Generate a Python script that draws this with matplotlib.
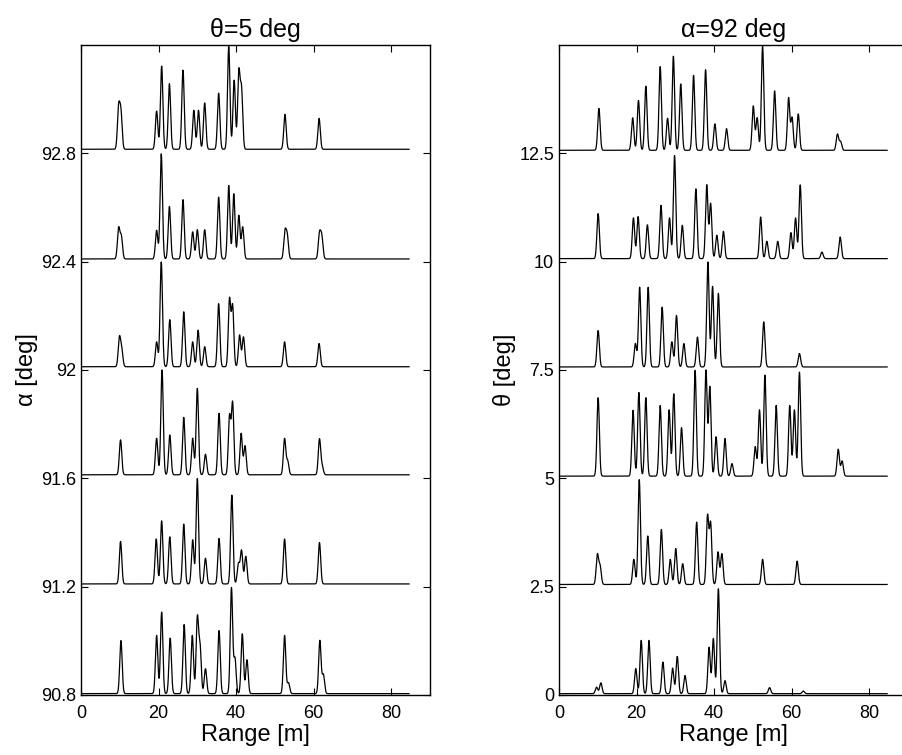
import numpy as np
import matplotlib.pyplot as plt

plt.rcParams['font.family'] = ['Liberation Sans', 'DejaVu Sans']

rng_m = np.linspace(0, 84.6, 4000)
peak_sigma = 0.31

# left panel: theta = 5 deg, one trace per alpha
alpha_ticks = [90.8, 91.2, 91.6, 92.0, 92.4, 92.8]
alpha_base = [90.805, 91.21, 91.613, 92.012, 92.41, 92.815]

a908_pos = [10.3, 19.5, 20.8, 23.0, 26.6, 28.7, 30.0, 30.7, 32.1, 35.6, 38.8, 39.7, 41.6, 42.8, 52.5, 53.5, 61.6, 62.5]
a908_amp = [0.196, 0.215, 0.301, 0.205, 0.255, 0.215, 0.276, 0.17, 0.092, 0.233, 0.39, 0.129, 0.221, 0.125, 0.215, 0.04, 0.196, 0.07]
a912_pos = [10.2, 19.4, 20.8, 22.9, 26.5, 28.8, 30.0, 32.1, 35.6, 38.9, 40.6, 41.4, 42.5, 52.5, 61.5]
a912_amp = [0.157, 0.166, 0.233, 0.174, 0.221, 0.163, 0.389, 0.095, 0.168, 0.328, 0.074, 0.123, 0.102, 0.166, 0.153]
a916_pos = [10.2, 19.5, 20.9, 22.9, 26.5, 28.8, 30.0, 32.1, 35.6, 38.3, 39.1, 41.3, 42.3, 52.5, 53.3, 61.5, 62.2]
a916_amp = [0.129, 0.135, 0.387, 0.147, 0.212, 0.135, 0.319, 0.076, 0.227, 0.215, 0.264, 0.153, 0.107, 0.133, 0.05, 0.131, 0.03]
a920_pos = [9.9, 10.5, 19.5, 20.7, 22.9, 26.5, 28.8, 30.2, 31.9, 35.5, 38.3, 39.1, 40.9, 41.9, 52.5, 61.4]
a920_amp = [0.104, 0.06, 0.092, 0.387, 0.174, 0.203, 0.092, 0.135, 0.074, 0.233, 0.248, 0.223, 0.117, 0.11, 0.092, 0.086]
a924_pos = [9.7, 10.4, 19.5, 20.7, 22.8, 26.3, 28.8, 30.0, 31.9, 35.5, 38.1, 39.4, 40.7, 41.7, 52.6, 53.2, 61.5, 62.1]
a924_amp = [0.112, 0.081, 0.106, 0.388, 0.194, 0.219, 0.10, 0.108, 0.108, 0.228, 0.271, 0.241, 0.161, 0.118, 0.097, 0.081, 0.09, 0.079]
a928_pos = [9.7, 10.3, 19.5, 20.8, 22.8, 26.3, 29.1, 30.3, 31.9, 35.5, 38.1, 39.5, 40.7, 41.4, 52.6, 61.4]
a928_amp = [0.15, 0.13, 0.141, 0.307, 0.242, 0.292, 0.144, 0.144, 0.171, 0.207, 0.38, 0.255, 0.281, 0.215, 0.129, 0.114]

# right panel: alpha = 92 deg, one trace per theta
theta_ticks = [0, 2.5, 5, 7.5, 10, 12.5]
theta_base = [0.03, 2.55, 5.05, 7.57, 10.07, 12.57]

t00_pos = [9.7, 10.8, 19.8, 21.2, 23.2, 26.8, 29.3, 30.5, 32.5, 38.7, 39.8, 41.1, 42.8, 54.3, 63.0]
t00_amp = [0.15, 0.25, 0.58, 1.23, 1.23, 0.73, 0.59, 0.86, 0.42, 1.07, 1.27, 2.42, 0.3, 0.14, 0.06]
t25_pos = [9.9, 10.6, 19.3, 20.7, 22.9, 26.4, 28.7, 30.1, 31.9, 35.5, 38.3, 39.1, 41.0, 42.0, 52.5, 61.4]
t25_amp = [0.68, 0.41, 0.58, 2.42, 1.12, 1.27, 0.58, 0.83, 0.48, 1.44, 1.57, 1.40, 0.75, 0.71, 0.58, 0.54]
t50_pos = [10.1, 19.1, 20.6, 22.4, 26.1, 28.4, 29.6, 31.6, 35.1, 37.9, 38.9, 40.5, 42.8, 44.6, 50.6, 51.7, 53.1, 56.0, 59.5, 60.7, 62.0, 72.0, 73.0]
t50_amp = [1.81, 1.52, 1.93, 1.81, 1.63, 1.53, 1.90, 1.12, 2.44, 2.44, 2.06, 0.91, 0.87, 0.29, 0.68, 1.53, 2.33, 1.63, 1.63, 1.53, 2.40, 0.62, 0.35]
t75_pos = [10.1, 19.7, 20.8, 23.0, 26.6, 29.1, 30.3, 32.2, 35.7, 38.4, 39.6, 41.1, 52.8, 62.0]
t75_amp = [0.84, 0.54, 1.84, 1.84, 1.38, 0.58, 1.19, 0.54, 0.69, 2.42, 1.86, 1.70, 1.04, 0.31]
t100_pos = [10.1, 19.2, 20.4, 22.8, 26.3, 28.5, 29.8, 31.8, 35.3, 38.1, 39.1, 40.7, 42.4, 52.0, 53.6, 56.4, 59.8, 61.0, 62.2, 67.8, 72.5]
t100_amp = [1.04, 0.94, 0.97, 0.78, 1.23, 0.94, 2.38, 0.77, 1.61, 1.70, 1.27, 0.54, 0.63, 0.96, 0.40, 0.40, 0.60, 0.94, 1.70, 0.15, 0.50]
t125_pos = [10.3, 19.0, 20.5, 22.4, 26.1, 28.0, 29.5, 31.4, 34.7, 37.8, 40.2, 43.2, 50.1, 51.1, 52.5, 55.6, 59.2, 60.1, 61.7, 71.8, 72.6]
t125_amp = [0.967, 0.75, 1.15, 1.48, 1.93, 0.74, 2.17, 1.53, 1.73, 1.86, 0.61, 0.5, 1.02, 0.75, 2.40, 1.37, 1.21, 0.75, 0.84, 0.37, 0.2]

left_traces = [(a908_pos, a908_amp), (a912_pos, a912_amp), (a916_pos, a916_amp),
               (a920_pos, a920_amp), (a924_pos, a924_amp), (a928_pos, a928_amp)]
right_traces = [(t00_pos, t00_amp), (t25_pos, t25_amp), (t50_pos, t50_amp),
                (t75_pos, t75_amp), (t100_pos, t100_amp), (t125_pos, t125_amp)]


def trace(base, pos, amp):
    y = np.full_like(rng_m, base)
    for p, a in zip(pos, amp):
        y += a * np.exp(-0.5 * ((rng_m - p) / peak_sigma) ** 2)
    return y


fig = plt.figure(figsize=(9.02, 7.55), dpi=100)
ax1 = fig.add_axes([0.0898, 0.0795, 0.3869, 0.8609])
# right axes runs past the right edge of the picture
ax2 = fig.add_axes([0.6197, 0.0795, 0.4085, 0.8609])

for base, (pos, amp) in zip(alpha_base, left_traces):
    ax1.plot(rng_m, trace(base, pos, amp), color='black', lw=0.9)
for base, (pos, amp) in zip(theta_base, right_traces):
    ax2.plot(rng_m, trace(base, pos, amp), color='black', lw=0.9)

ax1.set_xlim(0, 90)
ax1.set_ylim(90.8, 93.2)
ax1.set_yticks(alpha_ticks)
ax1.set_yticklabels(['90.8', '91.2', '91.6', '92', '92.4', '92.8'])
ax1.set_ylabel('α [deg]', fontsize=17, labelpad=2)
ax1.set_title('θ=5 deg', fontsize=18)

ax2.set_xlim(0, 95)
ax2.set_ylim(0, 15)
ax2.set_yticks(theta_ticks)
ax2.set_yticklabels(['0', '2.5', '5', '7.5', '10', '12.5'])
ax2.set_ylabel('θ [deg]', fontsize=17, labelpad=2)
ax2.set_title('α=92 deg', fontsize=18, x=0.4736)

for ax in (ax1, ax2):
    ax.set_xticks([0, 20, 40, 60, 80])
    ax.tick_params(direction='in', top=True, right=True, labelsize=13, length=5)
    ax.tick_params(axis='x', pad=7)
    for s in ax.spines.values():
        s.set_linewidth(1.0)

ax1.set_xlabel('Range [m]', fontsize=17, labelpad=2)
ax2.set_xlabel('Range [m]', fontsize=17, labelpad=2, x=0.4736)

fig.savefig('out.png', dpi=100)
